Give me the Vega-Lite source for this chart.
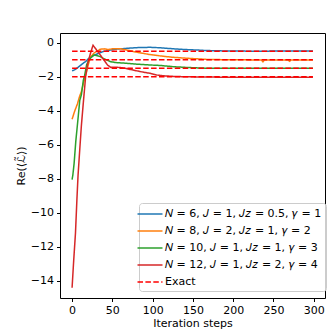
{
  "$schema": "https://vega.github.io/schema/vega-lite/v6.json",
  "autosize": "none",
  "width": 265,
  "height": 265,
  "padding": {"left": 60, "top": 33, "right": 7, "bottom": 34},
  "background": "white",
  "config": {
    "font": "DejaVu Sans",
    "view": {"stroke": "black", "strokeWidth": 1},
    "axis": {"grid": false, "domain": false, "tickColor": "black", "tickSize": 3.5, "labelColor": "black", "labelFontSize": 11, "titleFontSize": 11, "titleFontWeight": "normal", "titleColor": "black", "labelPadding": 3}
  },
  "datasets": {"d": [
    {"step": 0, "v": -1.65, "s": "A", "g": "a"},
    {"step": 3, "v": -1.6, "s": "A", "g": "a"},
    {"step": 6, "v": -1.5, "s": "A", "g": "a"},
    {"step": 10, "v": -1.35, "s": "A", "g": "a"},
    {"step": 14, "v": -1.2, "s": "A", "g": "a"},
    {"step": 17, "v": -1.1, "s": "A", "g": "a"},
    {"step": 20, "v": -0.95, "s": "A", "g": "a"},
    {"step": 25, "v": -0.8, "s": "A", "g": "a"},
    {"step": 31, "v": -0.66, "s": "A", "g": "a"},
    {"step": 38, "v": -0.53, "s": "A", "g": "a"},
    {"step": 45, "v": -0.45, "s": "A", "g": "a"},
    {"step": 55, "v": -0.38, "s": "A", "g": "a"},
    {"step": 68, "v": -0.33, "s": "A", "g": "a"},
    {"step": 80, "v": -0.29, "s": "A", "g": "a"},
    {"step": 97, "v": -0.27, "s": "A", "g": "a"},
    {"step": 110, "v": -0.3, "s": "A", "g": "a"},
    {"step": 126, "v": -0.36, "s": "A", "g": "a"},
    {"step": 140, "v": -0.4, "s": "A", "g": "a"},
    {"step": 155, "v": -0.43, "s": "A", "g": "a"},
    {"step": 167, "v": -0.46, "s": "A", "g": "a"},
    {"step": 185, "v": -0.48, "s": "A", "g": "a"},
    {"step": 200, "v": -0.49, "s": "A", "g": "a"},
    {"step": 230, "v": -0.5, "s": "A", "g": "a"},
    {"step": 260, "v": -0.49, "s": "A", "g": "a"},
    {"step": 299, "v": -0.49, "s": "A", "g": "a"},

    {"step": 0, "v": -4.5, "s": "B", "g": "b"},
    {"step": 3, "v": -4.05, "s": "B", "g": "b"},
    {"step": 6.6, "v": -3.6, "s": "B", "g": "b"},
    {"step": 9, "v": -3.2, "s": "B", "g": "b"},
    {"step": 11.5, "v": -2.88, "s": "B", "g": "b"},
    {"step": 14, "v": -2.4, "s": "B", "g": "b"},
    {"step": 17, "v": -1.9, "s": "B", "g": "b"},
    {"step": 20, "v": -1.3, "s": "B", "g": "b"},
    {"step": 23, "v": -0.85, "s": "B", "g": "b"},
    {"step": 27, "v": -0.62, "s": "B", "g": "b"},
    {"step": 31, "v": -0.5, "s": "B", "g": "b"},
    {"step": 35, "v": -0.38, "s": "B", "g": "b"},
    {"step": 40, "v": -0.36, "s": "B", "g": "b"},
    {"step": 45, "v": -0.4, "s": "B", "g": "b"},
    {"step": 50, "v": -0.36, "s": "B", "g": "b"},
    {"step": 60, "v": -0.36, "s": "B", "g": "b"},
    {"step": 70, "v": -0.45, "s": "B", "g": "b"},
    {"step": 77, "v": -0.53, "s": "B", "g": "b"},
    {"step": 85, "v": -0.6, "s": "B", "g": "b"},
    {"step": 97, "v": -0.7, "s": "B", "g": "b"},
    {"step": 110, "v": -0.78, "s": "B", "g": "b"},
    {"step": 126, "v": -0.86, "s": "B", "g": "b"},
    {"step": 145, "v": -0.92, "s": "B", "g": "b"},
    {"step": 167, "v": -0.98, "s": "B", "g": "b"},
    {"step": 190, "v": -1.0, "s": "B", "g": "b"},
    {"step": 220, "v": -1.01, "s": "B", "g": "b"},
    {"step": 235, "v": -1.01, "s": "B", "g": "b"},
    {"step": 237, "v": -1.12, "s": "B", "g": "b"},
    {"step": 239, "v": -1.01, "s": "B", "g": "b"},
    {"step": 268, "v": -1.01, "s": "B", "g": "b"},
    {"step": 270, "v": -1.09, "s": "B", "g": "b"},
    {"step": 272, "v": -1.01, "s": "B", "g": "b"},
    {"step": 299, "v": -1.01, "s": "B", "g": "b"},

    {"step": 0, "v": -8.05, "s": "C", "g": "c"},
    {"step": 1, "v": -7.75, "s": "C", "g": "c"},
    {"step": 2.5, "v": -7.1, "s": "C", "g": "c"},
    {"step": 4.6, "v": -5.8, "s": "C", "g": "c"},
    {"step": 7.4, "v": -4.45, "s": "C", "g": "c"},
    {"step": 9.5, "v": -3.4, "s": "C", "g": "c"},
    {"step": 11.6, "v": -3.05, "s": "C", "g": "c"},
    {"step": 14, "v": -2.2, "s": "C", "g": "c"},
    {"step": 15.7, "v": -1.9, "s": "C", "g": "c"},
    {"step": 18, "v": -1.3, "s": "C", "g": "c"},
    {"step": 21, "v": -1.0, "s": "C", "g": "c"},
    {"step": 24, "v": -0.85, "s": "C", "g": "c"},
    {"step": 27, "v": -0.72, "s": "C", "g": "c"},
    {"step": 30, "v": -0.75, "s": "C", "g": "c"},
    {"step": 35, "v": -0.82, "s": "C", "g": "c"},
    {"step": 40, "v": -0.95, "s": "C", "g": "c"},
    {"step": 48, "v": -1.12, "s": "C", "g": "c"},
    {"step": 55, "v": -1.17, "s": "C", "g": "c"},
    {"step": 68, "v": -1.21, "s": "C", "g": "c"},
    {"step": 80, "v": -1.26, "s": "C", "g": "c"},
    {"step": 97, "v": -1.31, "s": "C", "g": "c"},
    {"step": 110, "v": -1.34, "s": "C", "g": "c"},
    {"step": 126, "v": -1.41, "s": "C", "g": "c"},
    {"step": 145, "v": -1.46, "s": "C", "g": "c"},
    {"step": 167, "v": -1.5, "s": "C", "g": "c"},
    {"step": 200, "v": -1.5, "s": "C", "g": "c"},
    {"step": 250, "v": -1.5, "s": "C", "g": "c"},
    {"step": 299, "v": -1.5, "s": "C", "g": "c"},

    {"step": 0, "v": -14.4, "s": "D", "g": "d"},
    {"step": 2, "v": -12.8, "s": "D", "g": "d"},
    {"step": 4.2, "v": -11.2, "s": "D", "g": "d"},
    {"step": 6, "v": -9.2, "s": "D", "g": "d"},
    {"step": 7.4, "v": -7.8, "s": "D", "g": "d"},
    {"step": 9.5, "v": -6.3, "s": "D", "g": "d"},
    {"step": 11.6, "v": -4.84, "s": "D", "g": "d"},
    {"step": 14, "v": -3.5, "s": "D", "g": "d"},
    {"step": 17, "v": -1.9, "s": "D", "g": "d"},
    {"step": 20, "v": -1.1, "s": "D", "g": "d"},
    {"step": 23, "v": -0.6, "s": "D", "g": "d"},
    {"step": 26, "v": -0.15, "s": "D", "g": "d"},
    {"step": 30, "v": -0.4, "s": "D", "g": "d"},
    {"step": 35, "v": -0.72, "s": "D", "g": "d"},
    {"step": 40, "v": -1.05, "s": "D", "g": "d"},
    {"step": 44, "v": -1.31, "s": "D", "g": "d"},
    {"step": 48, "v": -1.45, "s": "D", "g": "d"},
    {"step": 55, "v": -1.44, "s": "D", "g": "d"},
    {"step": 60, "v": -1.46, "s": "D", "g": "d"},
    {"step": 66, "v": -1.5, "s": "D", "g": "d"},
    {"step": 72, "v": -1.57, "s": "D", "g": "d"},
    {"step": 85, "v": -1.7, "s": "D", "g": "d"},
    {"step": 97, "v": -1.8, "s": "D", "g": "d"},
    {"step": 105, "v": -1.9, "s": "D", "g": "d"},
    {"step": 115, "v": -1.95, "s": "D", "g": "d"},
    {"step": 126, "v": -1.98, "s": "D", "g": "d"},
    {"step": 140, "v": -2.0, "s": "D", "g": "d"},
    {"step": 170, "v": -2.02, "s": "D", "g": "d"},
    {"step": 200, "v": -2.03, "s": "D", "g": "d"},
    {"step": 250, "v": -2.03, "s": "D", "g": "d"},
    {"step": 299, "v": -2.03, "s": "D", "g": "d"},

    {"step": 0, "v": -0.5, "s": "E", "g": "e1"},
    {"step": 299, "v": -0.5, "s": "E", "g": "e1"},
    {"step": 0, "v": -1.0, "s": "E", "g": "e2"},
    {"step": 299, "v": -1.0, "s": "E", "g": "e2"},
    {"step": 0, "v": -1.5, "s": "E", "g": "e3"},
    {"step": 299, "v": -1.5, "s": "E", "g": "e3"},
    {"step": 0, "v": -2.0, "s": "E", "g": "e4"},
    {"step": 299, "v": -2.0, "s": "E", "g": "e4"}
  ]},
  "data": {"name": "d"},
  "mark": {"type": "line", "strokeWidth": 1.5, "clip": true},
  "encoding": {
    "x": {"field": "step", "type": "quantitative", "scale": {"domain": [-15, 314], "nice": false, "zero": false}, "axis": {"values": [0, 50, 100, 150, 200, 250, 300], "title": "Iteration steps", "titlePadding": 2}},
    "y": {"field": "v", "type": "quantitative", "scale": {"domain": [-15.0, 0.57], "nice": false, "zero": false}, "axis": {"values": [0, -2, -4, -6, -8, -10, -12, -14], "title": "Re(⟨ℒ̃⟩)", "titlePadding": 4}},
    "color": {"field": "s", "type": "nominal",
      "scale": {"domain": ["A", "B", "C", "D", "E"], "range": ["#1f77b4", "#ff7f0e", "#2ca02c", "#d62728", "#ff0000"]},
      "legend": {"title": null, "orient": "none", "legendX": 79, "legendY": 170, "symbolType": "M-2,0H2", "symbolSize": 156, "symbolStrokeWidth": 1.5, "labelFontSize": 11, "labelLimit": 400, "labelColor": "black", "labelOffset": 8, "fillColor": "rgba(255,255,255,0.8)", "strokeColor": "#cccccc", "padding": 4, "cornerRadius": 3, "rowPadding": 5,
        "labelExpr": "datum.value == 'A' ? '𝑁 = 6, 𝐽 = 1, 𝐽𝑧 = 0.5, 𝛾 = 1' : datum.value == 'B' ? '𝑁 = 8, 𝐽 = 2, 𝐽𝑧 = 1, 𝛾 = 2' : datum.value == 'C' ? '𝑁 = 10, 𝐽 = 1, 𝐽𝑧 = 1, 𝛾 = 3' : datum.value == 'D' ? '𝑁 = 12, 𝐽 = 1, 𝐽𝑧 = 2, 𝛾 = 4' : 'Exact'"}},
    "strokeDash": {"field": "s", "type": "nominal",
      "scale": {"domain": ["A", "B", "C", "D", "E"], "range": [[1, 0], [1, 0], [1, 0], [1, 0], [5.5, 2.4]]}},
    "detail": {"field": "g", "type": "nominal"}
  }
}
